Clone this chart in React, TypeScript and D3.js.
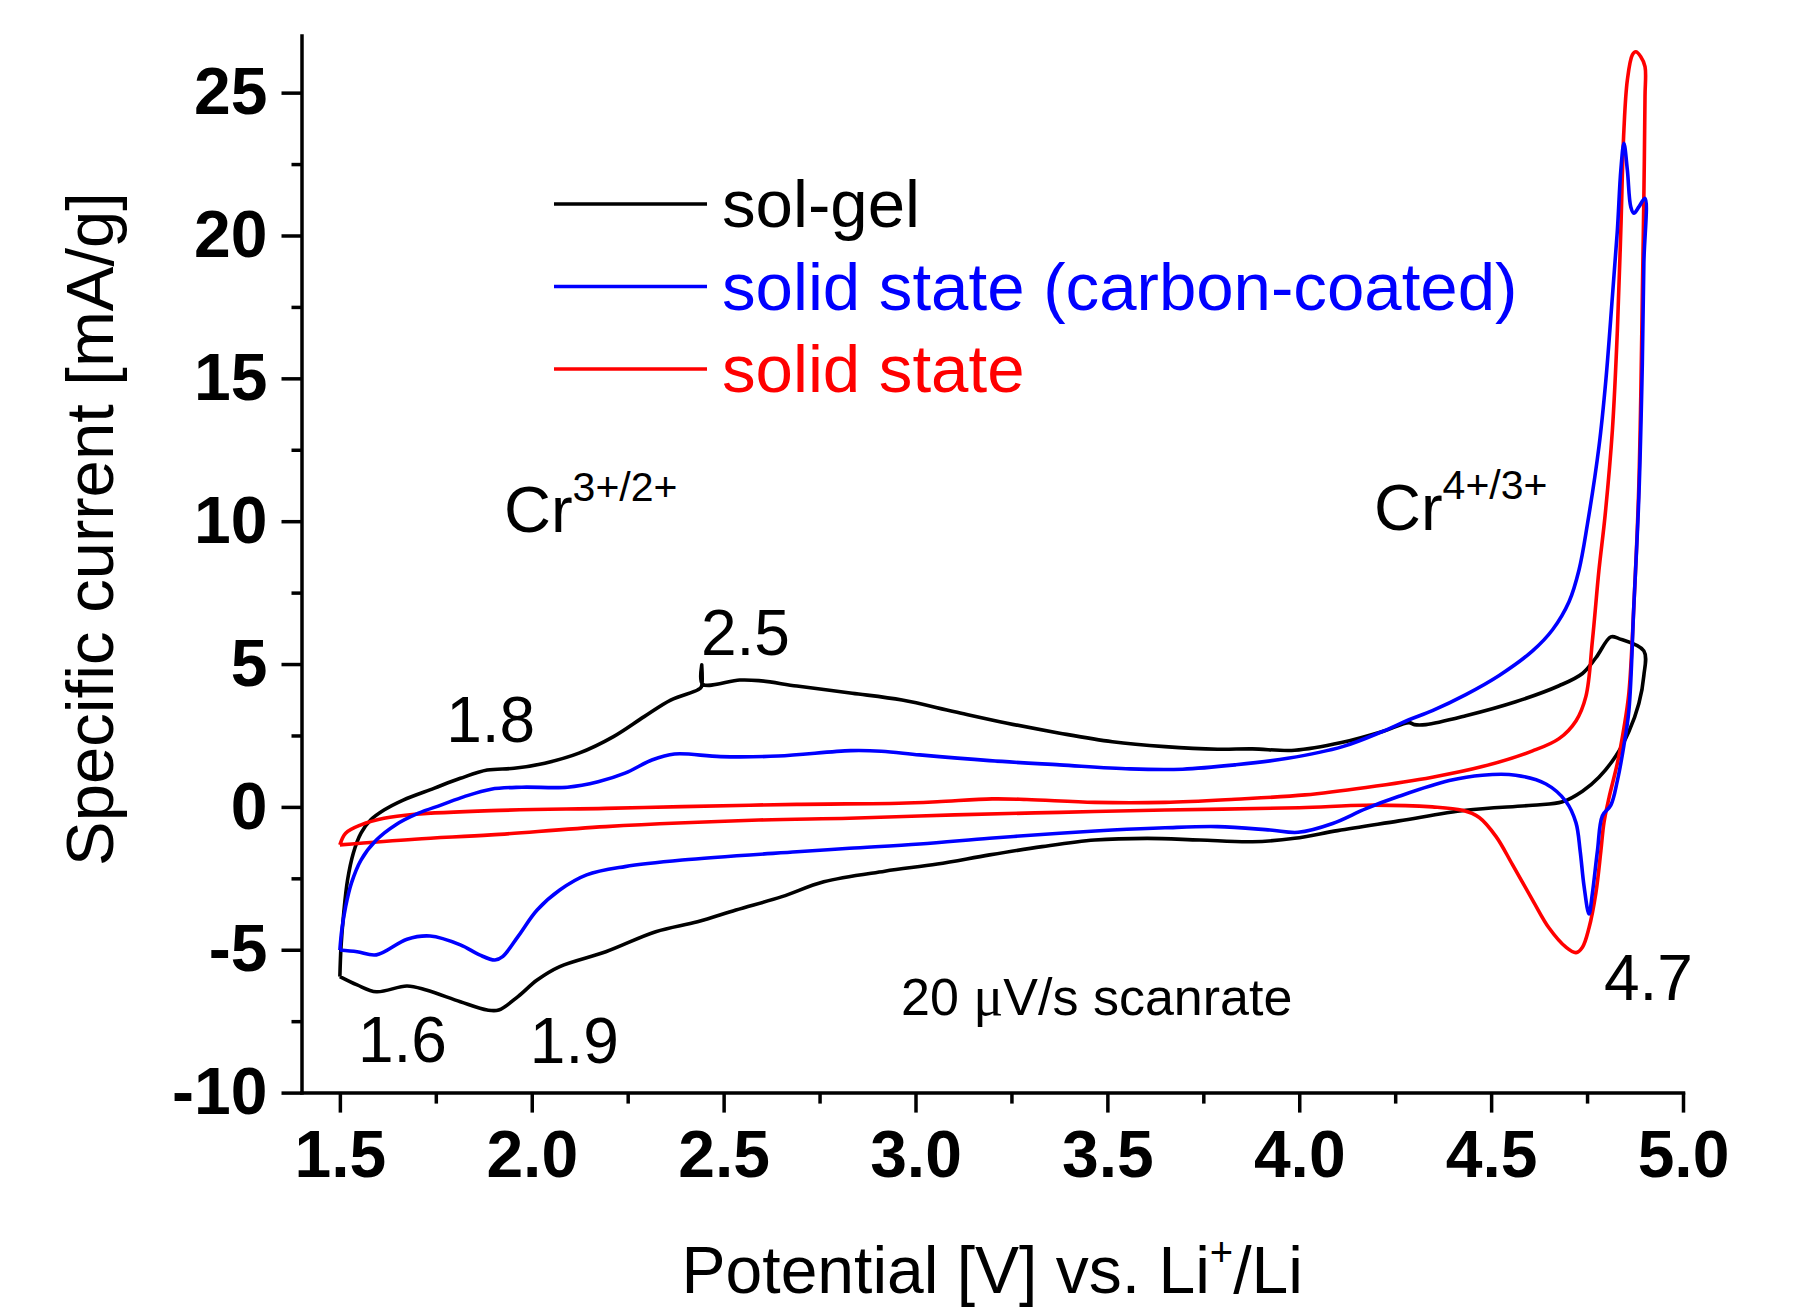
import React, { useEffect, useRef } from 'react'
import * as d3 from 'd3'

type Pt = [number, number] // [potential V, specific current mA/g]

// sol-gel: anodic sweep 1.5 -> 4.9 V, then cathodic sweep back
const solGelUp: Pt[] = [
  [1.5, -5.94], [1.503, -4.89], [1.51, -3.72], [1.52, -2.56], [1.535, -1.62],
  [1.555, -0.92], [1.58, -0.46], [1.615, -0.11], [1.665, 0.24], [1.745, 0.65],
  [1.814, 1.0], [1.884, 1.29], [1.954, 1.35], [2.034, 1.53], [2.123, 1.88],
  [2.213, 2.46], [2.293, 3.16], [2.362, 3.74], [2.432, 4.09], [2.442, 4.2],
  [2.443, 4.97], [2.445, 4.3], [2.542, 4.44], [2.592, 4.42], [2.691, 4.23],
  [2.835, 3.98], [2.965, 3.74], [3.102, 3.33], [3.239, 2.93], [3.376, 2.58],
  [3.513, 2.28], [3.65, 2.11], [3.787, 2.02], [3.878, 2.03], [3.988, 1.98],
  [4.11, 2.25], [4.217, 2.64], [4.286, 2.95], [4.3, 2.88], [4.33, 2.88],
  [4.434, 3.19], [4.564, 3.68], [4.677, 4.24], [4.738, 4.67], [4.773, 5.22],
  [4.812, 5.95], [4.833, 5.89], [4.898, 5.46],
]
const solGelDown: Pt[] = [
  [4.898, 4.6], [4.885, 3.62], [4.859, 2.64], [4.825, 1.78], [4.781, 1.04],
  [4.738, 0.55], [4.686, 0.18], [4.608, 0.06], [4.434, -0.12], [4.26, -0.49],
  [4.1, -0.83], [3.988, -1.1], [3.878, -1.22], [3.741, -1.16], [3.604, -1.1],
  [3.467, -1.16], [3.33, -1.39], [3.193, -1.68], [3.057, -2.0], [2.92, -2.25],
  [2.761, -2.62], [2.652, -3.14], [2.532, -3.61], [2.432, -4.02], [2.323, -4.37],
  [2.193, -5.07], [2.073, -5.59], [2.014, -6.06], [1.964, -6.64], [1.914, -7.11],
  [1.884, -7.11], [1.814, -6.82], [1.725, -6.41], [1.675, -6.27], [1.595, -6.47],
  [1.545, -6.23], [1.5, -5.94],
]

// solid state (carbon-coated)
const carbonUp: Pt[] = [
  [1.5, -5.01], [1.505, -4.31], [1.515, -3.49], [1.53, -2.67], [1.555, -1.86],
  [1.595, -1.16], [1.645, -0.63], [1.705, -0.22], [1.765, 0.07], [1.824, 0.36],
  [1.894, 0.62], [1.974, 0.69], [2.093, 0.69], [2.173, 0.88], [2.243, 1.18],
  [2.313, 1.64], [2.372, 1.85], [2.492, 1.76], [2.642, 1.78], [2.831, 1.97],
  [2.911, 1.95], [3.011, 1.82], [3.193, 1.62], [3.376, 1.47], [3.559, 1.33],
  [3.696, 1.32], [3.833, 1.47], [3.97, 1.7], [4.113, 2.11], [4.217, 2.64],
  [4.286, 3.05], [4.347, 3.37], [4.434, 3.93], [4.521, 4.6], [4.608, 5.46],
  [4.66, 6.2], [4.703, 7.18], [4.729, 8.29], [4.751, 9.9], [4.781, 12.61],
  [4.799, 14.94], [4.816, 17.86], [4.829, 20.19], [4.838, 22.29], [4.846, 23.23],
  [4.855, 22.29], [4.864, 21.0], [4.872, 20.78], [4.885, 21.0], [4.901, 21.3],
]
const carbonDown: Pt[] = [
  [4.898, 19.03], [4.894, 15.53], [4.885, 10.86], [4.872, 7.06], [4.859, 3.37],
  [4.846, 2.15], [4.829, 0.92], [4.812, 0.06], [4.79, -0.31], [4.777, -1.54],
  [4.764, -3.01], [4.755, -3.75], [4.742, -2.76], [4.732, -1.54], [4.721, -0.55],
  [4.695, 0.19], [4.643, 0.8], [4.564, 1.11], [4.477, 1.11], [4.391, 0.92],
  [4.26, 0.37], [4.174, -0.06], [4.087, -0.58], [3.997, -0.89], [3.924, -0.81],
  [3.787, -0.69], [3.65, -0.73], [3.513, -0.81], [3.376, -0.92], [3.193, -1.1],
  [3.011, -1.3], [2.828, -1.45], [2.691, -1.57], [2.392, -1.86], [2.243, -2.09],
  [2.143, -2.38], [2.073, -2.91], [2.014, -3.61], [1.964, -4.54], [1.924, -5.24],
  [1.904, -5.36], [1.864, -5.18], [1.814, -4.83], [1.735, -4.52], [1.675, -4.63],
  [1.595, -5.18], [1.545, -5.07], [1.5, -5.01],
]

// solid state
const solidUp: Pt[] = [
  [1.5, -1.33], [1.515, -0.92], [1.555, -0.63], [1.615, -0.4], [1.695, -0.26],
  [1.894, -0.13], [2.193, -0.05], [2.392, 0.01], [2.691, 0.09], [2.958, 0.13],
  [3.057, 0.18], [3.2, 0.28], [3.29, 0.26], [3.467, 0.16], [3.65, 0.16],
  [3.833, 0.27], [4.015, 0.42], [4.174, 0.68], [4.347, 1.04], [4.477, 1.41],
  [4.608, 1.96], [4.677, 2.39], [4.721, 3.01], [4.747, 3.87], [4.764, 5.83],
  [4.781, 8.29], [4.797, 10.2], [4.816, 13.19], [4.829, 16.69], [4.838, 20.19],
  [4.846, 23.69], [4.855, 25.44], [4.868, 26.32], [4.877, 26.43], [4.89, 26.26],
  [4.901, 25.91],
]
const solidDown: Pt[] = [
  [4.901, 24.86], [4.898, 21.36], [4.894, 17.86], [4.89, 14.36], [4.884, 10.86],
  [4.872, 7.06], [4.859, 3.99], [4.846, 2.76], [4.829, 1.53], [4.807, 0.31],
  [4.794, -0.55], [4.786, -1.54], [4.773, -3.01], [4.755, -4.24], [4.738, -4.91],
  [4.721, -5.1], [4.695, -4.91], [4.651, -4.24], [4.608, -3.26], [4.556, -2.03],
  [4.513, -1.04], [4.469, -0.37], [4.425, -0.12], [4.347, 0.0], [4.174, 0.06],
  [4.0, -0.03], [3.65, -0.11], [3.376, -0.19], [3.102, -0.28], [2.828, -0.4],
  [2.592, -0.46], [2.193, -0.69], [1.894, -0.98], [1.695, -1.13], [1.5, -1.33],
]

const seriesNames = ['sol-gel', 'solid state (carbon-coated)', 'solid state']
const seriesColors = ['#000000', '#0000ff', '#ff0000']
const seriesData = [
  [...solGelUp, ...solGelDown],
  [...carbonUp, ...carbonDown],
  [...solidUp, ...solidDown],
]
const drawOrder = [0, 2, 1]

const xMajor = [1.5, 2.0, 2.5, 3.0, 3.5, 4.0, 4.5, 5.0]
const xMinor = [1.75, 2.25, 2.75, 3.25, 3.75, 4.25, 4.75]
const yMajor = [-10, -5, 0, 5, 10, 15, 20, 25]
const yMinor = [-7.5, -2.5, 2.5, 7.5, 12.5, 17.5, 22.5]

// peak labels: [text, potential, current] at the left end of the text baseline
const peakLabels: [string, number, number][] = [
  ['2.5', 2.441, 5.32],
  ['1.8', 1.777, 2.27],
  ['1.6', 1.547, -8.93],
  ['1.9', 1.995, -8.96],
  ['4.7', 4.794, -6.76],
]

const width = 1794
const height = 1312
const font = "'Liberation Sans', Arial, Helvetica, sans-serif"

const x = d3.scaleLinear().domain([1.4, 5.0]).range([301.5, 1683])
const y = d3.scaleLinear().domain([-10, 27]).range([1092.6, 35.5])

const line = d3.line<Pt>()
  .curve(d3.curveCatmullRom.alpha(0.5))
  .x(d => x(d[0]))
  .y(d => y(d[1]))

const styleAxis = (g: any, labels: boolean) => {
  g.selectAll('line').attr('stroke', '#000').attr('stroke-width', 3.5)
  g.select('.domain').attr('stroke', '#000').attr('stroke-width', 3.5).attr('stroke-linecap', 'square')
  if (labels) {
    g.selectAll('text')
      .attr('font-family', font)
      .attr('font-size', 66)
      .attr('font-weight', 'bold')
      .attr('fill', '#000')
  }
}

const chart = (node: SVGSVGElement) => {
  const svg = d3.select(node)
  svg.selectAll('*').remove()

  svg.append('rect').attr('width', width).attr('height', height).attr('fill', '#fff')

  // minor ticks first, then the major axes on top
  svg.append('g')
    .attr('transform', `translate(0,${y(-10)})`)
    .call(d3.axisBottom(x).tickValues(xMinor).tickSize(11).tickFormat(() => ''))
    .call((g: any) => g.select('.domain').remove())
    .call((g: any) => styleAxis(g, false))
  svg.append('g')
    .attr('transform', `translate(${x(1.4)},0)`)
    .call(d3.axisLeft(y).tickValues(yMinor).tickSize(10).tickFormat(() => ''))
    .call((g: any) => g.select('.domain').remove())
    .call((g: any) => styleAxis(g, false))

  svg.append('g')
    .attr('transform', `translate(0,${y(-10)})`)
    .call(d3.axisBottom(x).tickValues(xMajor).tickSize(20).tickSizeOuter(0).tickPadding(18)
      .tickFormat((d: any) => d3.format('.1f')(d)))
    .call((g: any) => styleAxis(g, true))
  svg.append('g')
    .attr('transform', `translate(${x(1.4)},0)`)
    .call(d3.axisLeft(y).tickValues(yMajor).tickSize(20).tickSizeOuter(0).tickPadding(14)
      .tickFormat((d: any) => String(d)))
    .call((g: any) => styleAxis(g, true))

  // curves
  drawOrder.forEach(i => {
    svg.append('path')
      .datum(seriesData[i])
      .attr('fill', 'none')
      .attr('stroke', seriesColors[i])
      .attr('stroke-width', 3.6)
      .attr('stroke-linejoin', 'round')
      .attr('d', line)
  })

  // legend
  const legend = svg.append('g').attr('font-family', font).attr('font-size', 67.2)
  seriesNames.forEach((name, i) => {
    const ly = 204 + i * 82.5
    legend.append('line')
      .attr('x1', 554).attr('x2', 707).attr('y1', ly).attr('y2', ly)
      .attr('stroke', seriesColors[i]).attr('stroke-width', 3.6)
    legend.append('text')
      .attr('x', 722).attr('y', ly + 23)
      .attr('fill', seriesColors[i])
      .text(name)
  })

  const ann = svg.append('g').attr('font-family', font).attr('fill', '#000')

  // redox couples
  const cr = (tx: number, ty: number, sup: string) => {
    const t = ann.append('text').attr('x', tx).attr('y', ty).attr('font-size', 65)
    t.append('tspan').text('Cr')
    t.append('tspan').attr('font-size', 41).attr('dy', -31).text(sup)
  }
  cr(504, 532, '3+/2+')
  cr(1374, 530, '4+/3+')

  peakLabels.forEach(([label, v, i]) => {
    ann.append('text')
      .attr('x', x(v)).attr('y', y(i))
      .attr('font-size', 64)
      .text(label)
  })

  const rate = ann.append('text').attr('x', 901).attr('y', 1015).attr('font-size', 52)
  rate.append('tspan').text('20 ')
  rate.append('tspan').attr('font-family', "'Liberation Serif', 'Times New Roman', serif")
    .attr('font-size', 56).text('\u03bc')
  rate.append('tspan').text('V/s scanrate')

  // axis titles
  const xt = ann.append('text')
    .attr('x', (x(1.4) + x(5.0)) / 2).attr('y', 1293)
    .attr('text-anchor', 'middle').attr('font-size', 66)
  xt.append('tspan').text('Potential [V] vs. Li')
  xt.append('tspan').attr('font-size', 40).attr('dy', -27).text('+')
  xt.append('tspan').attr('dy', 27).text('/Li')

  ann.append('text')
    .attr('transform', `translate(113,529) rotate(-90)`)
    .attr('text-anchor', 'middle').attr('font-size', 67)
    .text('Specific current [mA/g]')
}

function App() {
  const ref = useRef<SVGSVGElement>(null)
  useEffect(() => {
    if (ref.current) chart(ref.current)
  }, [])
  return (
    <svg
      ref={ref}
      width={width}
      height={height}
      viewBox={`0 0 ${width} ${height}`}
      style={{ position: 'absolute', left: 0, top: 0, display: 'block' }}
    />
  )
}

export default App
